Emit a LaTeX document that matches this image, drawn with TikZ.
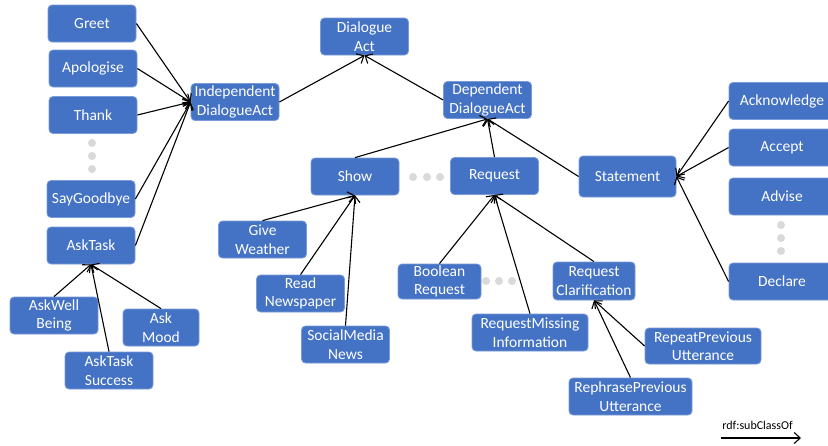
\documentclass[tikz,border=0pt]{standalone}
\usepackage{fontspec}
\setmainfont{Carlito}
\usetikzlibrary{arrows.meta}
\definecolor{boxblue}{HTML}{4472C4}
\definecolor{boxedge}{HTML}{7A9BD9}
\definecolor{dotgrey}{HTML}{D9D9D9}
\begin{document}
\begin{tikzpicture}[x=1pt,y=-1pt,
 box/.style={rectangle, rounded corners=4pt, fill=boxblue, draw=boxedge, line width=0.8pt, text=white, align=center, inner sep=0pt, minimum width=88pt, minimum height=37pt, font=\fontsize{15.5}{18.5}\selectfont},
 sub/.style={draw=black, line width=1.1pt, -{Straight Barb[length=6pt,width=11pt,line width=1.1pt]}},
 gdot/.style={circle, fill=dotgrey, inner sep=0pt, minimum size=8pt}]
\clip (0,0) rectangle (828,445);
\fill[white] (0,0) rectangle (828,445);
% nodes
\node[box] (DA) at (364.5,36.5) {Dialogue\\Act};
\node[box] (IDA) at (235,102) {Independent\\DialogueAct};
\node[box] (DDA) at (487.5,100) {Dependent\\DialogueAct};
\node[box] (greet) at (92,23.5) {Greet};
\node[box] (apol) at (93,68.5) {Apologise};
\node[box] (thank) at (93,115) {Thank};
\node[box] (bye) at (91,199) {SayGoodbye};
\node[box] (ask) at (91,245.5) {AskTask};
\node[box] (wb) at (54,315.5) {AskWell\\Being};
\node[box, minimum width=76pt] (mood) at (161,327.5) {Ask\\Mood};
\node[box] (succ) at (109,370.5) {AskTask\\Success};
\node[box] (show) at (355,176.5) {Show};
\node[box] (req) at (494.5,176) {Request};
\node[box, minimum width=97pt, minimum height=41pt] (stmt) at (627.5,176.5) {Statement};
\node[box] (gw) at (262.5,239.5) {Give\\Weather};
\node[box] (rn) at (300.5,293.5) {Read\\Newspaper};
\node[box] (smn) at (345.5,344.5) {SocialMedia\\News};
\node[box, minimum width=83pt, minimum height=35pt] (bool) at (439.5,281.5) {Boolean\\Request};
\node[box, minimum width=116pt] (rmi) at (530,332.5) {RequestMissing\\Information};
\node[box, minimum width=82pt, minimum height=38pt] (rc) at (594,281) {Request\\Clarification};
\node[box, minimum width=116pt, minimum height=36pt] (rep) at (703,346) {RepeatPrevious\\Utterance};
\node[box, minimum width=123pt] (reph) at (630.5,396.5) {RephrasePrevious\\Utterance};
\node[box, minimum width=106pt] (ack) at (782,101) {Acknowledge};
\node[box, minimum width=106pt] (acc) at (782,147.5) {Accept};
\node[box, minimum width=106pt] (adv) at (782,196.5) {Advise};
\node[box, minimum width=106pt] (dec) at (782,281.5) {Declare};
% dots
\foreach \n/\x/\y in {a1/92/143, a2/92/156, a3/92/169,
                      b1/413/177, b2/427/177, b3/440/177,
                      c1/486/281, c2/499/281, c3/512/281,
                      d1/781/225, d2/781/238, d3/781/251}
  \node[gdot] (dot\n) at (\x,\y) {};
% edges
\draw[sub] (greet.east) -- (IDA.west);
\draw[sub] (apol.east) -- (IDA.west);
\draw[sub] (thank.east) -- (IDA.west);
\draw[sub] (bye.east) -- (IDA.west);
\draw[sub] (ask.east) -- (IDA.west);
\draw[sub] (IDA.east) -- (DA.south);
\draw[sub] (DDA.west) -- (DA.south);
\draw[sub] (show.north) -- (DDA.south);
\draw[sub] (req.north) -- (DDA.south);
\draw[sub] (stmt.west) -- (DDA.south);
\draw[sub] (gw.north) -- (show.south);
\draw[sub] (rn.north) -- (show.south);
\draw[sub] (smn.north) -- (show.south);
\draw[sub] (bool.north) -- (req.south);
\draw[sub] (rmi.north) -- (req.south);
\draw[sub] (rc.north) -- (req.south);
\draw[sub] (reph.north) -- (rc.south);
\draw[sub] (rep.west) -- (rc.south);
\draw[sub] (wb.north) -- (ask.south);
\draw[sub] (succ.north) -- (ask.south);
\draw[sub] (mood.north) -- (ask.south);
\draw[sub] (ack.west) -- (stmt.east);
\draw[sub] (acc.west) -- (stmt.east);
\draw[sub] (dec.west) -- (stmt.east);
% legend
\node[font=\fontsize{12}{14}\selectfont, inner sep=0pt] (lg) at (757.5,425) {rdf:subClassOf};
\coordinate (l1) at (721,438);
\coordinate (l2) at (801,438);
\draw[sub] (l1) -- (l2);
\end{tikzpicture}
\end{document}
